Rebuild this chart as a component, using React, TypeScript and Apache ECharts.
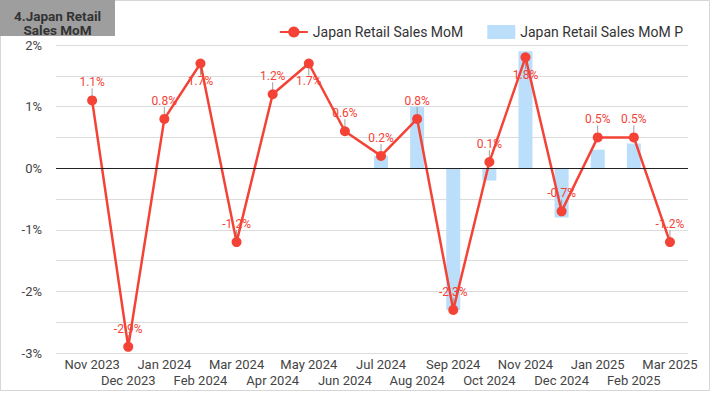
import React, { useEffect, useRef } from "react";
import * as echarts from "echarts";

const categories = [
  "Nov 2023", "Dec 2023", "Jan 2024", "Feb 2024", "Mar 2024", "Apr 2024",
  "May 2024", "Jun 2024", "Jul 2024", "Aug 2024", "Sep 2024", "Oct 2024",
  "Nov 2024", "Dec 2024", "Jan 2025", "Feb 2025", "Mar 2025",
];
const retailMoM = [1.1, -2.9, 0.8, 1.7, -1.2, 1.2, 1.7, 0.6, 0.2, 0.8, -2.3, 0.1, 1.8, -0.7, 0.5, 0.5, -1.2];
const retailMoMP: (number | null)[] = [null, null, null, null, null, null, null, null, 0.2, 1.0, -2.3, -0.2, 1.9, -0.8, 0.3, 0.4, null];
const yTicks = [-3, -2, -1, 0, 1, 2];

export default function App() {
  const ref = useRef<HTMLDivElement>(null);
  useEffect(() => {
    document.body.style.margin = "0";
    const chart = echarts.init(ref.current!, null, { renderer: "svg" });
    const font = "Roboto, 'Noto Sans', sans-serif";
    const isHigh = (v: number) => v >= 1.7;
    chart.setOption({
      animation: false,
      textStyle: { fontFamily: font },
      graphic: [
        { type: "rect", shape: { x: 0.5, y: 0.5, width: 709, height: 390 }, style: { fill: "none", stroke: "#d6d6d6", lineWidth: 1 }, z: 0 },
        { type: "rect", shape: { x: 0, y: 0, width: 115, height: 36 }, style: { fill: "#9e9e9e" }, z: 10 },
        {
          type: "text", x: 57.5, y: 15.5, z: 11,
          style: { text: "4.Japan Retail", fill: "#333", font: `bold 13.5px ${font}`, align: "center", verticalAlign: "middle" },
        },
        {
          type: "text", x: 57.5, y: 29.5, z: 11,
          style: { text: "Sales MoM", fill: "#333", font: `bold 13.5px ${font}`, align: "center", verticalAlign: "middle" },
        },
      ],
      legend: {
        right: 23, top: 20, itemWidth: 28, itemHeight: 14, itemGap: 24,
        textStyle: { color: "#333", fontSize: 14, fontFamily: font },
        data: [
          { name: "Japan Retail Sales MoM" },
          { name: "Japan Retail Sales MoM P", icon: "rect" },
        ],
      },
      grid: { left: 56, right: 23, top: 45, bottom: 395 - 353 },
      xAxis: {
        type: "value", min: -1, max: 16.5, interval: 1,
        axisLine: { show: false }, axisTick: { show: false }, splitLine: { show: false },
        axisLabel: {
          color: "#444", fontSize: 13, margin: 3, lineHeight: 16.5, showMaxLabel: false, showMinLabel: false,
          formatter: (v: number) => {
            if (!Number.isInteger(v) || v < 0 || v >= categories.length) return "";
            return v % 2 === 1 ? "\n" + categories[v] : categories[v];
          },
        },
      },
      yAxis: {
        type: "value", min: -3, max: 2, interval: 0.5,
        axisLine: { show: false }, axisTick: { show: false },
        splitLine: { lineStyle: { color: "#dcdcdc", width: 1 } },
        axisLabel: {
          color: "#444", fontSize: 13, margin: 14,
          formatter: (v: number) => (yTicks.includes(v) ? `${v}%` : ""),
        },
      },
      series: [
        {
          name: "Japan Retail Sales MoM P", type: "bar", barWidth: 14, z: 1,
          itemStyle: { color: "#bbdefb" },
          data: retailMoMP.map((v, i) => [i, v]).filter((d) => d[1] !== null),
          markLine: {
            silent: true, symbol: "none", label: { show: false },
            lineStyle: { color: "#222", type: "solid", width: 1 },
            data: [{ yAxis: 0 }],
          },
        },
        {
          name: "leaders", type: "custom", z: 2, silent: true,
          data: retailMoM.map((v, i) => [i, v]),
          renderItem: (params: any, api: any) => {
            const p = api.coord([api.value(0), api.value(1)]);
            const dir = isHigh(api.value(1)) ? 1 : -1;
            return {
              type: "line",
              shape: { x1: p[0], y1: p[1], x2: p[0], y2: p[1] + dir * 12 },
              style: { stroke: "#9e9e9e", lineWidth: 1 },
            };
          },
        },
        {
          name: "Japan Retail Sales MoM", type: "line", z: 3,
          symbol: "circle", symbolSize: 10,
          lineStyle: { color: "#f44336", width: 2.5 },
          itemStyle: { color: "#f44336" },
          data: retailMoM.map((v, i) => ({
            value: [i, v],
            label: { position: isHigh(v) ? "bottom" : "top" },
          })),
          label: {
            show: true, color: "#f44336", fontSize: 12, distance: 7,
            formatter: (p: any) => `${p.value[1]}%`,
          },
        },
      ],
    });
    return () => chart.dispose();
  }, []);
  return <div ref={ref} style={{ position: "absolute", left: 0, top: 0, width: 711, height: 395, background: "#fff" }} />;
}
